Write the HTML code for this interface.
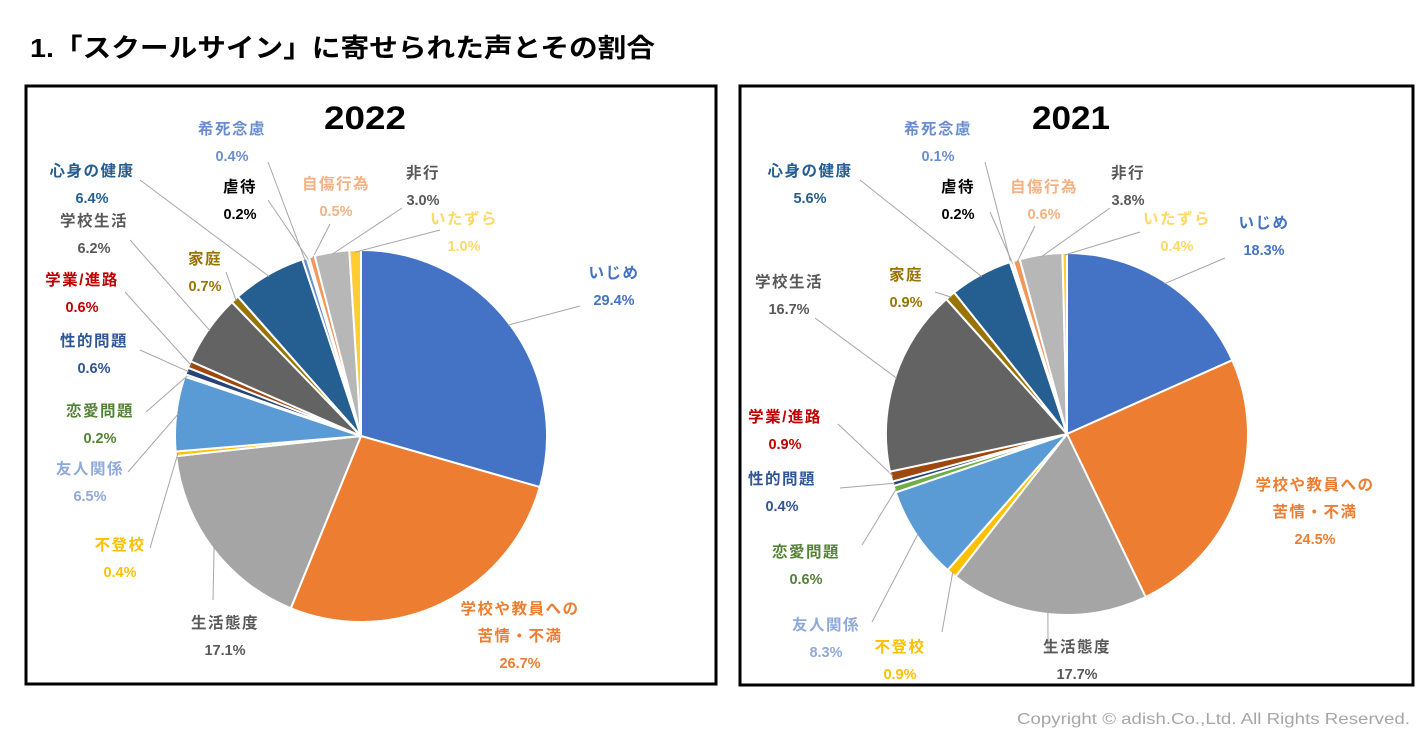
<!DOCTYPE html>
<html><head><meta charset="utf-8">
<style>
body{margin:0;background:#fff;width:1428px;height:751px;overflow:hidden;font-family:"Liberation Sans","Noto Sans CJK JP",sans-serif;}
svg text{font-family:"Liberation Sans","Noto Sans CJK JP",sans-serif;}
</style></head>
<body>
<svg id="chart" width="1428" height="751" viewBox="0 0 1428 751">
<text x="30" y="57" font-size="26" font-weight="bold" fill="#000" textLength="625" lengthAdjust="spacingAndGlyphs">1.「スクールサイン」に寄せられた声とその割合</text>
<rect x="26" y="86" width="690" height="598" fill="none" stroke="#000" stroke-width="3"/>
<rect x="740" y="86" width="673" height="599" fill="none" stroke="#000" stroke-width="3"/>
<text x="365" y="129" font-size="32" font-weight="bold" text-anchor="middle" textLength="82" lengthAdjust="spacingAndGlyphs">2022</text>
<text x="1071" y="129" font-size="32" font-weight="bold" text-anchor="middle" textLength="78" lengthAdjust="spacingAndGlyphs">2021</text>
<text x="1017" y="724" font-size="16" fill="#a6a6a6" textLength="393" lengthAdjust="spacingAndGlyphs">Copyright © adish.Co.,Ltd.  All Rights Reserved.</text>
<g id="g2022"></g><g id="g2021"></g>
</svg>
<script>
const categories=["いじめ","学校や教員への|苦情・不満","生活態度","不登校","友人関係","恋愛問題","性的問題","学業/進路","学校生活","家庭","心身の健康","希死念慮","虐待","自傷行為","非行","いたずら"];
const values2022=[29.4,26.7,17.1,0.4,6.5,0.2,0.6,0.6,6.2,0.7,6.4,0.4,0.2,0.5,3.0,1.0];
const values2021=[18.3,24.5,17.7,0.9,8.3,0.6,0.4,0.9,16.7,0.9,5.6,0.1,0.2,0.6,3.8,0.4];
const sliceColors=["#4472C4","#ED7D31","#A5A5A5","#FFC000","#5B9BD5","#70AD47","#264478","#9E480E","#636363","#997300","#255E91","#698ED0","#F1975A","#F1975A","#B7B7B7","#FFCD33"];
const labelColors=["#4472C4","#ED7D31","#595959","#FFC000","#8EA9DB","#548235","#2F5597","#C00000","#595959","#997300","#255E91","#698ED0","#000000","#F4B183","#595959","#FFD966"];
const layout2022={cx:361,cy:436,r:186,
 lab:[[614,278],[520,614],[225,628],[120,550],[90,474],[100,416],[94,346],[82,285],[94,226],[205,264],[92,176],[232,134],[240,192],[336,189],[423,178],[464,224]],
 anc:[[580,306],null,[213,600],[150,548],[128,472],[146,412],[140,350],[125,292],[130,240],[226,272],[140,180],[268,162],[268,200],[330,224],[402,208],[440,230]]};
const layout2021={cx:1067,cy:434,r:181,
 lab:[[1264,228],[1315,490],[1077,652],[900,652],[826,630],[806,557],[782,484],[785,422],[789,287],[906,280],[810,176],[938,134],[958,192],[1044,192],[1128,178],[1177,224]],
 anc:[[1225,258],null,[1048,652],[942,632],[872,622],[862,545],[840,488],[838,424],[815,318],[935,292],[860,180],[985,162],[990,212],[1035,226],[1110,208],[1140,232]]};
const NS="http://www.w3.org/2000/svg";
function mk(t,a,p){const e=document.createElementNS(NS,t);for(const k in a)e.setAttribute(k,a[k]);p.appendChild(e);return e;}
function pt(L,ang,rr){return [L.cx+rr*Math.sin(ang),L.cy-rr*Math.cos(ang)];}
function draw(vals,L,gid,yr){
 const g=document.getElementById(gid);
 const tot=vals.reduce((a,b)=>a+b,0);
 let a0=0;
 vals.forEach((v,i)=>{
  const a1=a0+v/tot*2*Math.PI;
  const p0=pt(L,a0,L.r),p1=pt(L,a1,L.r);
  const path=mk("path",{d:`M${L.cx},${L.cy}L${p0[0]},${p0[1]}A${L.r},${L.r} 0 ${a1-a0>Math.PI?1:0} 1 ${p1[0]},${p1[1]}Z`,fill:sliceColors[i],stroke:"#fff","stroke-width":2},g);
  
  
  const mid=(a0+a1)/2;
  if(L.anc[i]){
   const pm=pt(L,mid,L.r-2);
   const ln=mk("line",{x1:pm[0],y1:pm[1],x2:L.anc[i][0],y2:L.anc[i][1],stroke:"#a6a6a6","stroke-width":1},g);
   
   
  }
  const cj=categories[i].split("|");
  const lines=cj.concat([v.toFixed(1)+"%"]);
  lines.forEach((s,k)=>{
   const isCjk=k<cj.length;
   const attrs={x:L.lab[i][0],y:L.lab[i][1]+k*27,"font-size":isCjk?15.5:14.5,"font-weight":"bold","text-anchor":"middle",fill:labelColors[i]};
   if(isCjk) attrs["letter-spacing"]="1.5";
   const t=mk("text",attrs,g);
   t.textContent=s;
   
   
  });
  a0=a1;
 });
}
draw(values2022,layout2022,"g2022","2022");
draw(values2021,layout2021,"g2021","2021");
</script>
</body></html>
